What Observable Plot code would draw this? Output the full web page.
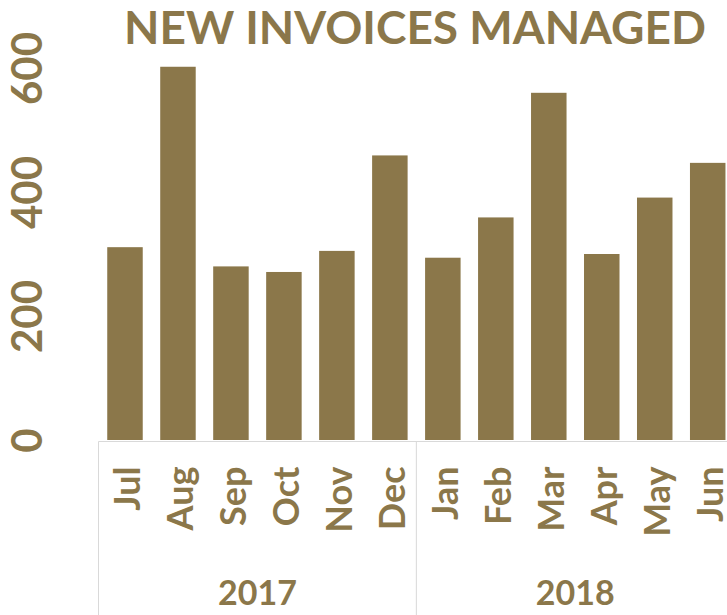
<!DOCTYPE html>
<html>
<head>
<meta charset="utf-8">
<script src="https://cdn.jsdelivr.net/npm/d3@7"></script>
<script src="https://cdn.jsdelivr.net/npm/@observablehq/plot@0.6"></script>
<style>
  html, body { margin: 0; padding: 0; background: #fff; }
  #wrap { position: relative; width: 727px; height: 615px; overflow: hidden; }
  #title {
    position: absolute; top: 4px; left: 415px; transform: translateX(-50%);
    white-space: nowrap; font-family: Lato, "Open Sans", sans-serif; font-weight: 700;
    font-size: 46px; line-height: 46px; color: #8B774A; z-index: 2;
  }
  #chart { position: absolute; left: 0; top: 0; }
</style>
</head>
<body>
<div id="wrap">
  <div id="chart"></div>
  <div id="title">NEW INVOICES MANAGED</div>
</div>
<script>
// ---- data ----
const months = ["Jul", "Aug", "Sep", "Oct", "Nov", "Dec", "Jan", "Feb", "Mar", "Apr", "May", "Jun"];
const values = [311, 602, 280, 271, 305, 459, 294, 359, 560, 300, 391, 447];
const years = ["2017", "2018"];
const yearMonths = [months.slice(0, 6), months.slice(6)];
const yTicks = [0, 200, 400, 600];

const COLOR = "#8B774A";
const GRID = "#d9d9d9";
const FONT = "Lato, 'Open Sans', sans-serif";

const data = months.map((m, i) => ({month: m, value: values[i]}));

// category group box + year labels, positioned through the x band scale
function groupAxis(index, scales, channels, dimensions) {
  const x = scales.x, y = scales.y;
  const bw = x.bandwidth();
  const step = x.step ? x.step() : bw / (1 - 0.33);
  const off = (step - bw) / 2;
  const top = y(0) + 1.5;
  const bottom = dimensions.height;
  const edges = yearMonths.map(ms => [x(ms[0]) - off, x(ms[ms.length - 1]) + bw + off]);
  const g = d3.create("svg:g");
  g.append("line")
    .attr("x1", edges[0][0]).attr("x2", edges[edges.length - 1][1])
    .attr("y1", top).attr("y2", top)
    .attr("stroke", GRID).attr("stroke-width", 1);
  const xs = [edges[0][0], ...edges.map(e => e[1])];
  xs.forEach(xv => {
    g.append("line")
      .attr("x1", xv).attr("x2", xv).attr("y1", top).attr("y2", bottom)
      .attr("stroke", GRID).attr("stroke-width", 1);
  });
  edges.forEach((e, i) => {
    g.append("text")
      .attr("x", (e[0] + e[1]) / 2).attr("y", 605)
      .attr("text-anchor", "middle")
      .attr("font-family", FONT).attr("font-weight", 700).attr("font-size", 34)
      .attr("fill", COLOR)
      .text(years[i]);
  });
  return g.node();
}

const chart = Plot.plot({
  width: 727,
  height: 615,
  marginLeft: 98,
  marginRight: 0,
  marginTop: 0,
  marginBottom: 174,
  style: {fontFamily: FONT, background: "transparent", overflow: "visible"},
  x: {domain: months, range: [98.5, 734.2], paddingInner: 0.33, paddingOuter: 0.165, round: false, axis: null},
  y: {domain: [0, 600], range: [440, 68], axis: null},
  marks: [
    Plot.barY(data, {x: "month", y: "value", fill: COLOR}),
    Plot.text(yTicks, {
      y: d => d, text: d => String(d), frameAnchor: "left", dx: -70,
      textAnchor: "middle", lineAnchor: "middle",
      rotate: -90, fontSize: 42, fontWeight: 700, fill: COLOR
    }),
    Plot.text(months, {
      x: d => d, text: d => d, frameAnchor: "bottom", dy: 25, dx: 3,
      lineAnchor: "middle", textAnchor: "end",
      rotate: -90, fontSize: 36, fontWeight: 700, fill: COLOR
    }),
    groupAxis
  ]
});
document.getElementById("chart").appendChild(chart);
</script>
</body>
</html>
